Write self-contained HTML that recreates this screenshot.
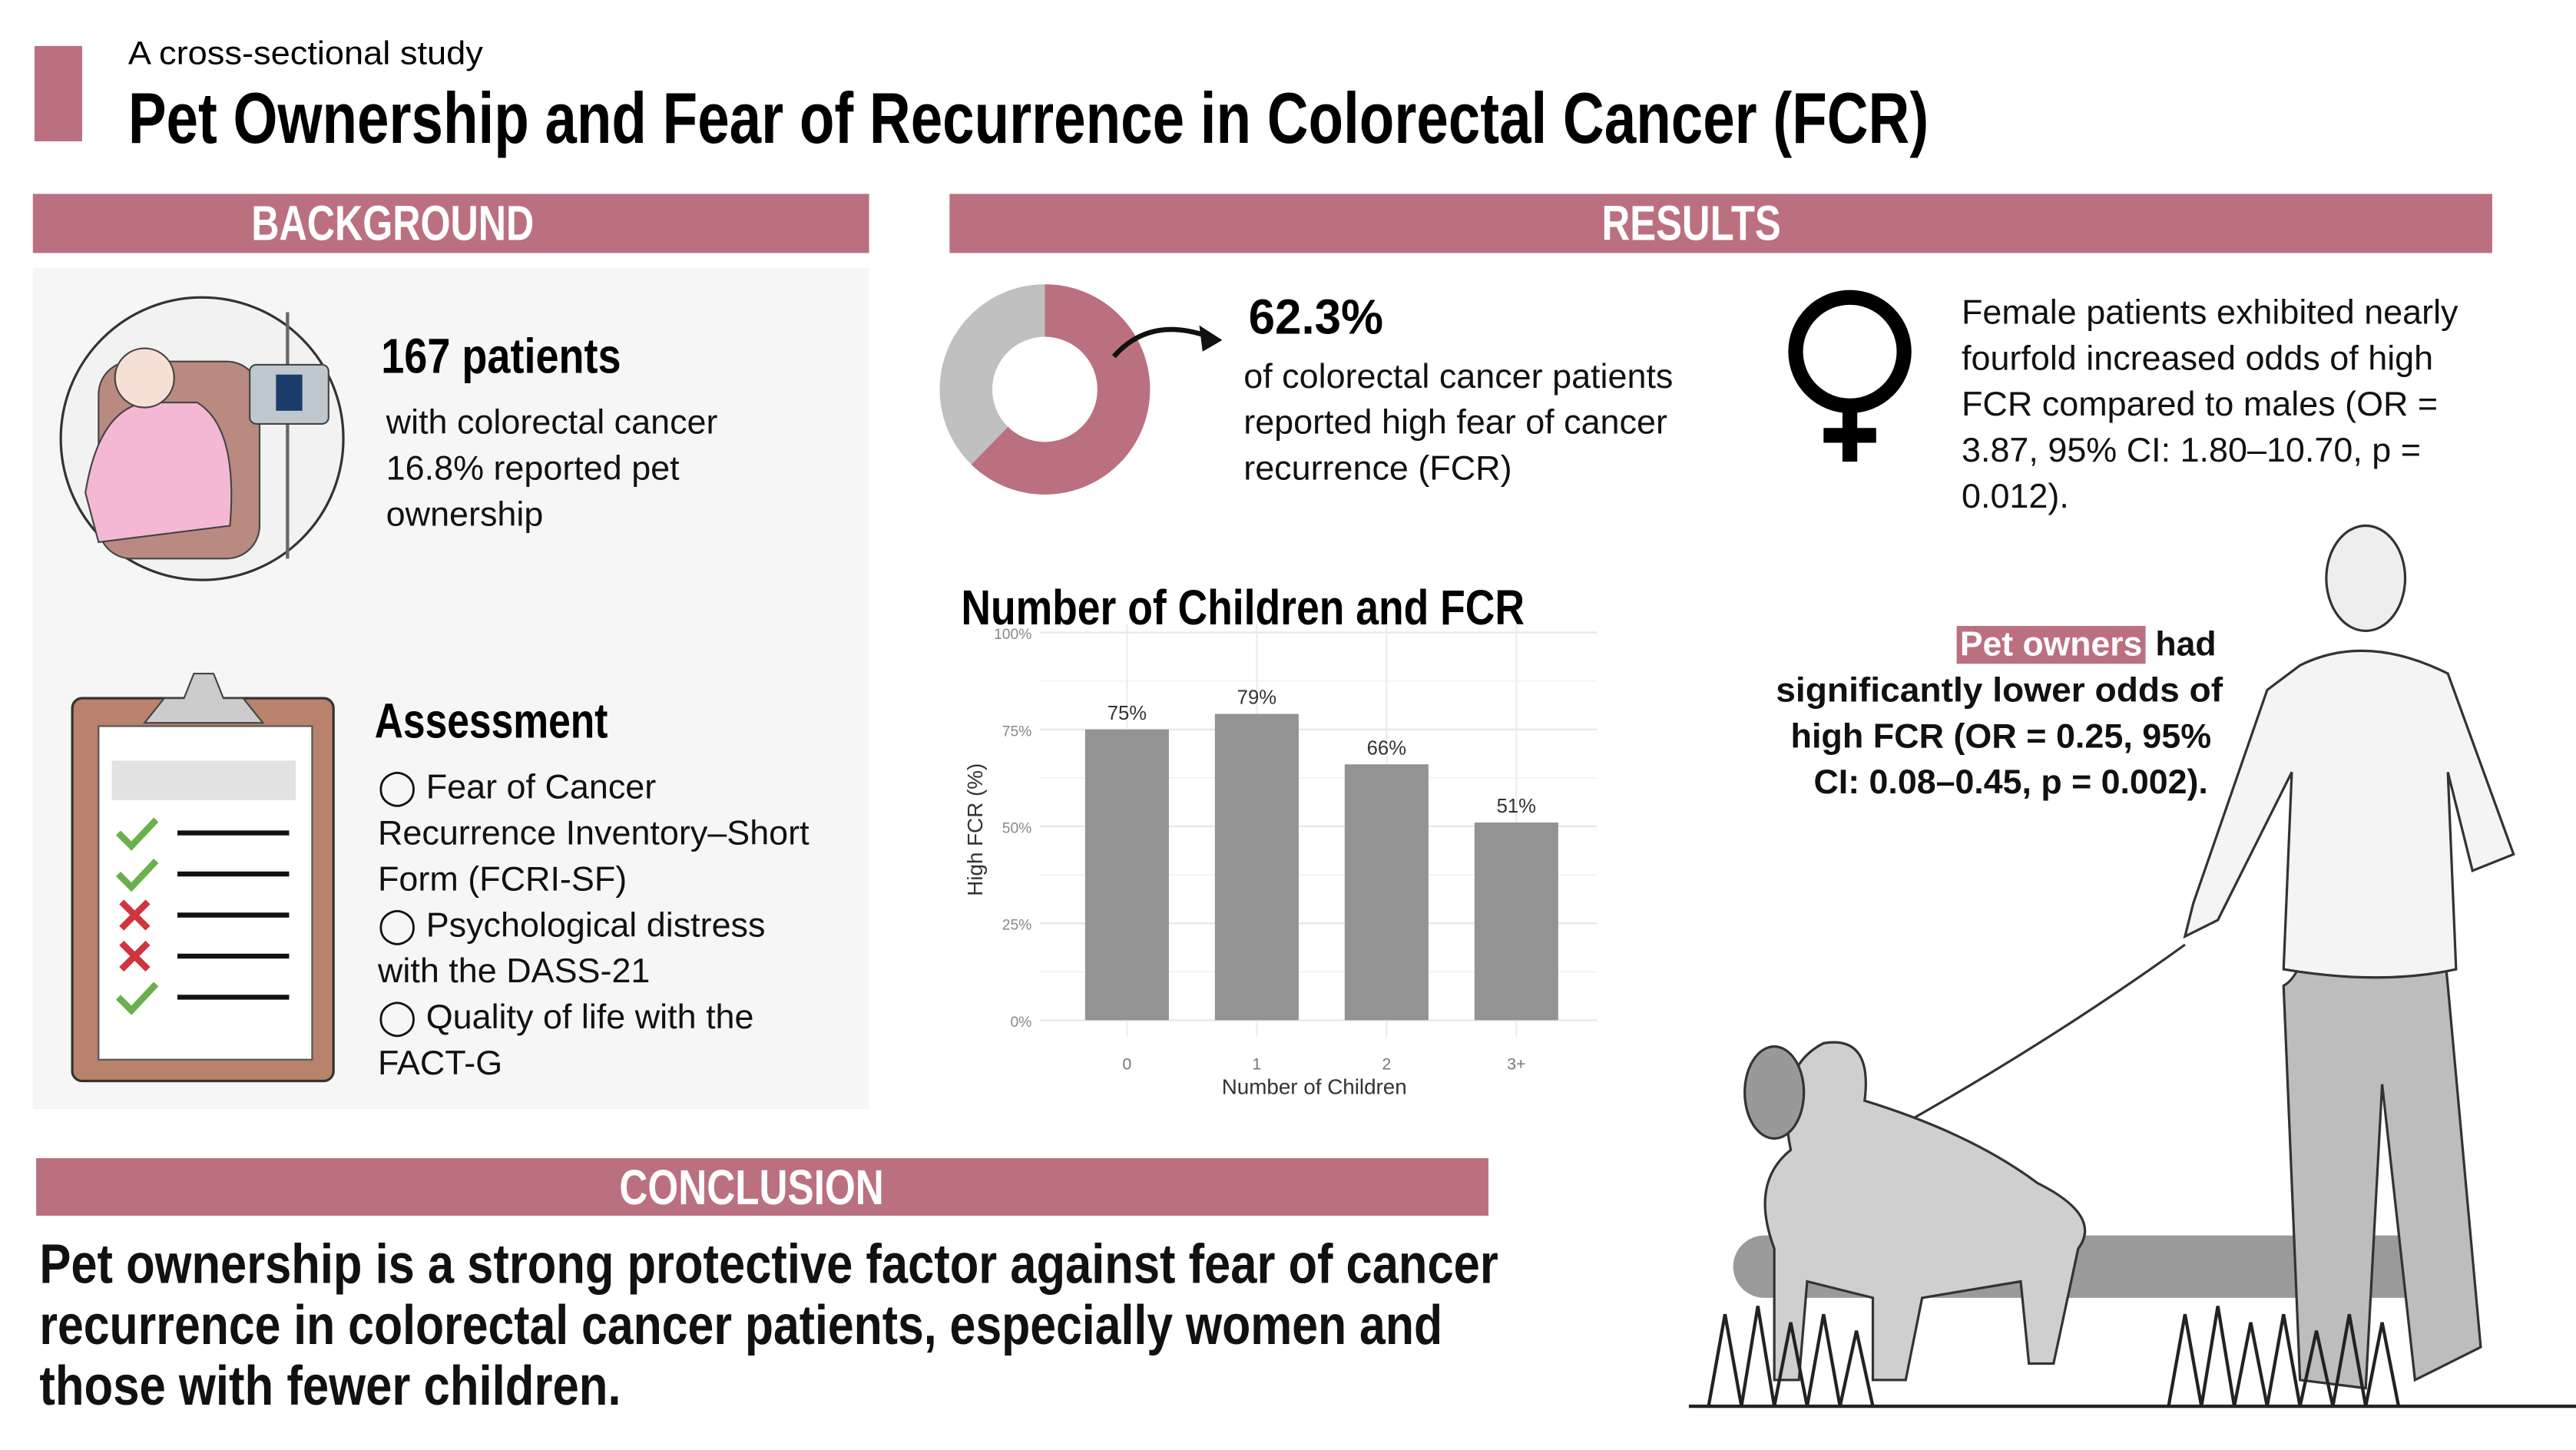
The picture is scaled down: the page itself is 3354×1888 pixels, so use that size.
<!DOCTYPE html>
<html><head><meta charset="utf-8"><style>
html,body{margin:0;padding:0;background:#fff;}
svg{display:block;}
text{font-family:"Liberation Sans",sans-serif;}
</style></head><body>
<svg id="page" width="3354" height="1888" viewBox="0 0 1568 882.6" xmlns="http://www.w3.org/2000/svg">
<rect width="1568" height="883" fill="#fff"/>
<rect x="21" y="28" width="29" height="58" fill="#bb7080"/>
<text x="78" y="39" font-size="20" textLength="216" lengthAdjust="spacingAndGlyphs">A cross-sectional study</text>
<text x="78" y="87" font-size="44" font-weight="bold" textLength="1096" lengthAdjust="spacingAndGlyphs">Pet Ownership and Fear of Recurrence in Colorectal Cancer (FCR)</text>

<rect x="20" y="118" width="509" height="36" fill="#bb7080"/>
<text x="153" y="146" font-size="30" font-weight="bold" fill="#fff" textLength="172" lengthAdjust="spacingAndGlyphs">BACKGROUND</text>
<rect x="578" y="118" width="939" height="36" fill="#bb7080"/>
<text x="975" y="146" font-size="30" font-weight="bold" fill="#fff" textLength="109" lengthAdjust="spacingAndGlyphs">RESULTS</text>

<rect x="20" y="163" width="509" height="512" fill="#f6f6f6"/>
<g>
<circle cx="123" cy="267" r="86" fill="#f2f2f2" stroke="#333" stroke-width="1.5"/>
<rect x="60" y="220" width="98" height="120" rx="20" fill="#b98a80" stroke="#444"/>
<path d="M52 300 Q60 250 88 245 L120 245 Q145 260 140 320 L60 330 Z" fill="#f4b8d4" stroke="#444"/>
<circle cx="88" cy="230" r="18" fill="#f6e0d6" stroke="#444"/>
<line x1="175" y1="190" x2="175" y2="340" stroke="#666" stroke-width="2"/>
<rect x="152" y="222" width="48" height="36" rx="4" fill="#bfc7cf" stroke="#444"/>
<rect x="168" y="228" width="16" height="22" fill="#1b3b6b"/>
</g>
<text x="232" y="227" font-size="30" font-weight="bold" textLength="146" lengthAdjust="spacingAndGlyphs">167 patients</text>
<g font-size="21" fill="#111">
<text x="235" y="264">with colorectal cancer</text>
<text x="235" y="292">16.8% reported pet</text>
<text x="235" y="320">ownership</text>
</g>
<g>
<rect x="44" y="425" width="159" height="233" rx="6" fill="#b9826d" stroke="#333" stroke-width="1.5"/>
<rect x="60" y="442" width="130" height="203" fill="#fff" stroke="#555"/>
<path d="M88 440 L100 425 L112 425 L118 410 L130 410 L136 425 L148 425 L160 440 Z" fill="#ccc" stroke="#444"/>
<rect x="68" y="463" width="112" height="24" fill="#e2e2e2"/>
<g stroke-width="4" fill="none">
<path d="M72 507 L80 515 L95 499" stroke="#6ab04c"/>
<path d="M72 532 L80 540 L95 524" stroke="#6ab04c"/>
<path d="M74 549 L90 565 M90 549 L74 565" stroke="#d0343f"/>
<path d="M74 574 L90 590 M90 574 L74 590" stroke="#d0343f"/>
<path d="M72 607 L80 615 L95 599" stroke="#6ab04c"/>
</g>
<g stroke="#111" stroke-width="3">
<line x1="108" y1="507" x2="176" y2="507"/><line x1="108" y1="532" x2="176" y2="532"/>
<line x1="108" y1="557" x2="176" y2="557"/><line x1="108" y1="582" x2="176" y2="582"/>
<line x1="108" y1="607" x2="176" y2="607"/>
</g>
</g>
<text x="228" y="449" font-size="30" font-weight="bold" textLength="142" lengthAdjust="spacingAndGlyphs">Assessment</text>
<g font-size="21" fill="#111">
<text x="230" y="486">◯ Fear of Cancer</text>
<text x="230" y="514">Recurrence Inventory–Short</text>
<text x="230" y="542">Form (FCRI-SF)</text>
<text x="230" y="570">◯ Psychological distress</text>
<text x="230" y="598">with the DASS-21</text>
<text x="230" y="626">◯ Quality of life with the</text>
<text x="230" y="654">FACT-G</text>
</g>

<g>
<circle cx="636" cy="237" r="48" fill="none" stroke="#c0c0c0" stroke-width="32"/>
<circle cx="636" cy="237" r="48" fill="none" stroke="#bb7080" stroke-width="32" stroke-dasharray="187.9 301.6" transform="rotate(-90 636 237)"/>
</g>
<path d="M678 217 Q700 192 736 205" fill="none" stroke="#111" stroke-width="3"/>
<path d="M744 207 L730 198 L732 214 Z" fill="#111"/>
<text x="760" y="203" font-size="30" font-weight="bold" textLength="82" lengthAdjust="spacingAndGlyphs">62.3%</text>
<g font-size="21" fill="#111">
<text x="757" y="236">of colorectal cancer patients</text>
<text x="757" y="264">reported high fear of cancer</text>
<text x="757" y="292">recurrence (FCR)</text>
</g>

<g stroke="#000" stroke-width="9" fill="none">
<circle cx="1126" cy="214" r="33"/>
<line x1="1126" y1="247" x2="1126" y2="281"/>
<line x1="1110" y1="265" x2="1142" y2="265"/>
</g>
<g font-size="21" fill="#111">
<text x="1194" y="197">Female patients exhibited nearly</text>
<text x="1194" y="225">fourfold increased odds of high</text>
<text x="1194" y="253">FCR compared to males (OR =</text>
<text x="1194" y="281">3.87, 95% CI: 1.80–10.70, p =</text>
<text x="1194" y="309">0.012).</text>
</g>

<rect x="1191" y="381" width="115" height="23" fill="#bb7080"/>
<g font-size="21" font-weight="bold" fill="#111">
<text x="1193" y="399" fill="#fff" textLength="111" lengthAdjust="spacingAndGlyphs">Pet owners</text>
<text x="1312" y="399" textLength="37" lengthAdjust="spacingAndGlyphs">had</text>
<text x="1081" y="427" textLength="272" lengthAdjust="spacingAndGlyphs">significantly lower odds of</text>
<text x="1090" y="455" textLength="256" lengthAdjust="spacingAndGlyphs">high FCR (OR = 0.25, 95%</text>
<text x="1104" y="483" textLength="240" lengthAdjust="spacingAndGlyphs">CI: 0.08–0.45, p = 0.002).</text>
</g>

<text x="585" y="380" font-size="30" font-weight="bold" textLength="343" lengthAdjust="spacingAndGlyphs">Number of Children and FCR</text>
<g id="chart"></g>

<g stroke="#333" stroke-width="1.5">
<rect x="1055" y="752" width="445" height="38" rx="19" fill="#9a9a9a" stroke="none"/>
<line x1="1028" y1="856" x2="1568" y2="856" stroke="#222" stroke-width="2"/>
<path d="M1420 480 Q1410 590 1390 600 L1400 840 L1440 845 L1450 660 L1470 840 L1510 820 L1490 600 Q1480 500 1475 480 Z" fill="#bdbdbd"/>
<path d="M1400 405 Q1440 385 1490 410 L1530 520 L1505 530 L1490 470 L1495 590 Q1450 600 1390 590 L1395 470 L1350 560 L1330 570 L1335 550 L1380 420 Z" fill="#f4f4f4"/>
<ellipse cx="1440" cy="352" rx="24" ry="32" fill="#eee"/>
<path d="M1330 575 Q1240 640 1130 700" fill="none" stroke="#333" stroke-width="1.5"/>
<path d="M1090 700 Q1080 650 1110 635 Q1140 630 1135 670 Q1200 690 1240 720 Q1280 740 1265 760 L1250 830 L1235 830 L1230 780 L1170 790 L1160 840 L1140 840 L1140 790 L1100 780 L1095 840 L1080 840 L1080 760 Q1065 720 1090 700 Z" fill="#cfcfcf"/>
<ellipse cx="1080" cy="665" rx="18" ry="28" fill="#999"/>
<path d="M1040 856 L1050 800 L1060 856 L1070 795 L1080 856 L1090 805 L1100 856 L1110 800 L1120 856 L1130 810 L1140 856 M1320 856 L1330 800 L1340 856 L1350 795 L1360 856 L1370 805 L1380 856 L1390 800 L1400 856 L1410 810 L1420 856 L1430 800 L1440 856 L1450 805 L1460 856" fill="none" stroke="#222" stroke-width="2"/>
</g>

<rect x="22" y="705" width="884" height="35" fill="#bb7080"/>
<text x="377" y="733" font-size="30" font-weight="bold" fill="#fff" textLength="161" lengthAdjust="spacingAndGlyphs">CONCLUSION</text>
<g font-size="34" font-weight="bold" fill="#111">
<text x="24" y="781" textLength="888" lengthAdjust="spacingAndGlyphs">Pet ownership is a strong protective factor against fear of cancer</text>
<text x="24" y="818" textLength="854" lengthAdjust="spacingAndGlyphs">recurrence in colorectal cancer patients, especially women and</text>
<text x="24" y="855" textLength="354" lengthAdjust="spacingAndGlyphs">those with fewer children.</text>
</g>
</svg>
<script>
const categories = ["0", "1", "2", "3+"];
const values = [75, 79, 66, 51];
const valueLabels = ["75%", "79%", "66%", "51%"];
const yTicks = [0, 25, 50, 75, 100];
const yTickLabels = ["0%", "25%", "50%", "75%", "100%"];

const NS = "http://www.w3.org/2000/svg";
const g = document.getElementById("chart");
const plot = {gx0: 633, gx1: 972, bx0: 646.5, bx1: 962.5, y0: 621, y100: 385};
function yScale(v){ return plot.y0 - (plot.y0 - plot.y100) * v / 100; }
function xScale(i){ const step = (plot.bx1 - plot.bx0) / categories.length; return plot.bx0 + step * (i + 0.5); }
function mk(tag, attrs){ const e = document.createElementNS(NS, tag); for (const k in attrs) e.setAttribute(k, attrs[k]); g.appendChild(e); return e; }

for (let v = 12.5; v < 100; v += 25) {
  const l = mk("line", {x1: plot.gx0, x2: plot.gx1, y1: yScale(v), y2: yScale(v), stroke: "#f2f2f2", "stroke-width": 0.8});
  
  
}
yTicks.forEach((v, i) => {
  const l = mk("line", {x1: plot.gx0, x2: plot.gx1, y1: yScale(v), y2: yScale(v), stroke: "#e6e6e6", "stroke-width": 1});
  
  
  const t = mk("text", {x: 628, y: yScale(v) + 4, "text-anchor": "end", "font-size": 9, fill: "#888", "font-family": "Liberation Serif, serif"});
  t.textContent = yTickLabels[i];
  
  
});
categories.forEach((c, i) => {
  const cx = xScale(i);
  const vl = mk("line", {x1: cx, x2: cx, y1: plot.y100 - 5, y2: plot.y0 + 10, stroke: "#ececec", "stroke-width": 1});
  
  
});
categories.forEach((c, i) => {
  const cx = xScale(i), w = 51;
  const b = mk("rect", {x: cx - w/2, y: yScale(values[i]), width: w, height: plot.y0 - yScale(values[i]), fill: "#939393"});
  
  
  const t = mk("text", {x: cx, y: yScale(values[i]) - 6, "text-anchor": "middle", "font-size": 12, fill: "#333"});
  t.textContent = valueLabels[i];
  
  
  const xt = mk("text", {x: cx, y: 651, "text-anchor": "middle", "font-size": 10, fill: "#777", "font-family": "Liberation Serif, serif"});
  xt.textContent = c;
  
  
});
const xtitle = mk("text", {x: 800, y: 666, "text-anchor": "middle", "font-size": 13, fill: "#333", "font-family": "Liberation Serif, serif"});
xtitle.textContent = "Number of Children";


const ytitle = mk("text", {x: 0, y: 0, "text-anchor": "middle", "font-size": 13, fill: "#333", transform: "translate(598 505) rotate(-90)"});
ytitle.textContent = "High FCR (%)";


</script>
</body></html>
